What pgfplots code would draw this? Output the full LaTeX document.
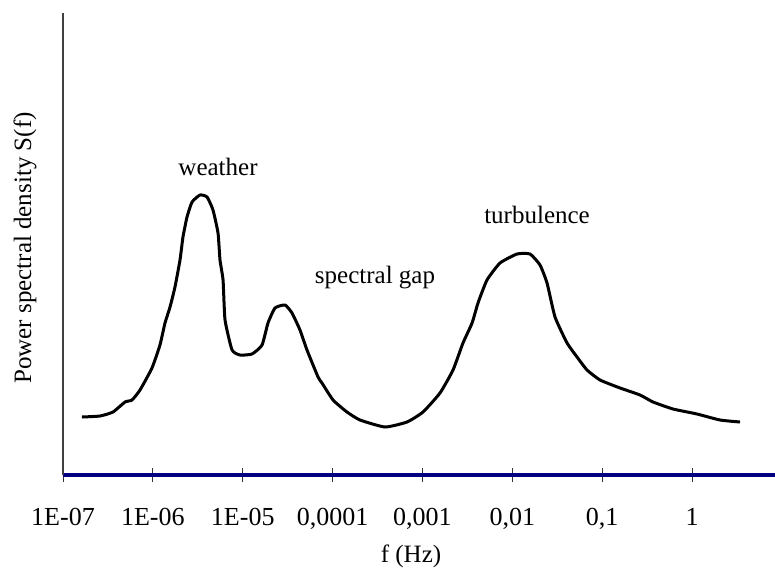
\documentclass[border=0pt]{standalone}
\usepackage{fontspec}
\setmainfont{Liberation Serif}
\usepackage{pgfplots}
\pgfplotsset{compat=1.18}
\definecolor{navyline}{RGB}{0,0,128}
\newcommand{\chartfont}{\fontsize{12.5}{15}\selectfont}
\newcommand{\tickfont}{\fontsize{13}{15}\selectfont}
\begin{document}
\begin{tikzpicture}[font=\chartfont]
\path[use as bounding box] (-31.5pt,-47pt) rectangle (356pt,237.5pt);
\begin{axis}[
  scale only axis, width=356pt, height=231pt,
  xmin=-7, xmax=0.923, ymin=0, ymax=462,
  axis x line=bottom, axis y line=left,
  axis line style={-},
  x axis line style={-, navyline, line width=1.6pt},
  y axis line style={-, black!75, line width=0.6pt},
  ytick=\empty,
  xtick={-7,-6,-5,-4,-3,-2,-1,0},
  xticklabels={{\tickfont 1E-07},{\tickfont 1E-06},{\tickfont 1E-05},{\tickfont 0,0001},{\tickfont 0,001},{\tickfont 0,01},{\tickfont 0,1},{\tickfont 1}},
  tick align=center, major tick length=7pt,
  x tick style={black!80, line width=0.5pt},
  xticklabel style={anchor=base, yshift=-21.5pt},
  clip=false,
]
\addplot[black, line width=1.5pt, line join=round, mark=none, smooth, tension=0.3] coordinates {
(-6.789,58) (-6.588,59) (-6.444,63) (-6.310,73) (-6.232,75) (-6.143,85)
(-6.010,107) (-5.921,130) (-5.865,152) (-5.809,168) (-5.754,188) (-5.698,215)
(-5.665,238) (-5.620,258) (-5.564,273) (-5.475,280) (-5.397,278) (-5.331,265)
(-5.275,242) (-5.253,215) (-5.219,195) (-5.197,155) (-5.119,125) (-5.030,120)
(-4.897,121) (-4.785,130) (-4.719,152) (-4.641,167) (-4.529,170) (-4.452,162)
(-4.363,145) (-4.285,125) (-4.162,98) (-4.118,92) (-3.995,75) (-3.840,63)
(-3.695,55) (-3.417,48) (-3.172,53) (-2.994,63) (-2.805,82) (-2.660,105)
(-2.549,132) (-2.448,152) (-2.382,172) (-2.282,195) (-2.137,212) (-1.948,221)
(-1.803,221) (-1.692,210) (-1.614,192) (-1.525,158) (-1.391,132) (-1.280,118)
(-1.169,105) (-1.024,95) (-0.801,87) (-0.579,80) (-0.434,73) (-0.212,66)
(0.055,61) (0.311,55) (0.534,53)
};
\node at (axis cs:-5.275,308) {weather};
\node at (axis cs:-1.725,260) {turbulence};
\node at (axis cs:-3.528,197) {spectral gap};
\end{axis}
\node[rotate=90] at (-19pt,113.5pt) {Power spectral density S(f)};
\node at (174pt,-40.5pt) {f (Hz)};
\end{tikzpicture}
\end{document}
